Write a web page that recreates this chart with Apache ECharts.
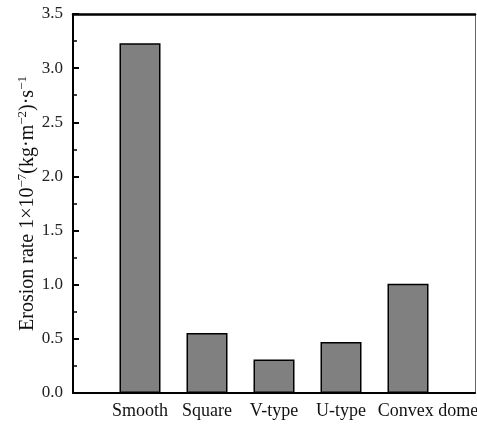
<!DOCTYPE html>
<html>
<head>
<meta charset="utf-8">
<script src="https://cdn.jsdelivr.net/npm/echarts@6/dist/echarts.min.js"></script>
<style>
  html, body { margin: 0; padding: 0; background: #fff; }
  #chart { width: 477px; height: 428px; }
</style>
</head>
<body>
<div id="chart"></div>
<script>
// categories (blank ends keep the bars off the frame edges)
var categories = ['', 'Smooth', 'Square', 'V-type', 'U-type', 'Convex dome', ''];
var erosionRate = [null, 3.23, 0.555, 0.31, 0.47, 1.01, null];
var yTicks = [0, 0.5, 1.0, 1.5, 2.0, 2.5, 3.0, 3.5];

var serif = '"Liberation Serif", "DejaVu Serif", serif';

var myChart = echarts.init(document.getElementById('chart'));

var xData = categories.map(function (c) {
    // last label sits a bit right of its bar in the original
    if (c === 'Convex dome') {
        return { value: c, textStyle: { padding: [0, 0, 0, 40] } };
    }
    return c;
});

var option = {
    animation: false,
    backgroundColor: '#fff',
    grid: { left: 73, right: 2, top: 14, bottom: 35, outerBoundsMode: 'none', containLabel: false },
    xAxis: [{
        type: 'category',
        data: xData,
        boundaryGap: false,
        axisLine: { lineStyle: { color: '#000', width: 2 } },
        axisTick: { show: false },
        axisLabel: {
            interval: 0,
            margin: 9,
            color: '#111',
            fontFamily: serif,
            fontSize: 18
        },
        splitLine: { show: false }
    }, {
        type: 'category',
        position: 'top',
        data: categories,
        boundaryGap: false,
        axisLine: { onZero: false, lineStyle: { color: '#000', width: 2.5 } },
        axisTick: { show: false },
        axisLabel: { show: false }
    }],
    yAxis: [{
        type: 'value',
        min: yTicks[0],
        max: yTicks[yTicks.length - 1],
        interval: 0.5,
        name: '{a|Erosion rate 1×10}{s|−7}{a|(kg·m}{s|−2}{a|)·s}{s|−1}',
        nameLocation: 'middle',
        nameRotate: 90,
        nameGap: 33,
        nameMoveOverlap: false,
        nameTextStyle: {
            rich: {
                a: { fontFamily: serif, fontSize: 20, color: '#111', lineHeight: 24 },
                s: { fontFamily: serif, fontSize: 13, color: '#111', lineHeight: 24, verticalAlign: 'top', padding: [0, 0, 2, 0] }
            }
        },
        axisLine: { show: true, onZero: false, lineStyle: { color: '#000', width: 2 } },
        axisTick: { show: true, inside: true, length: 6, lineStyle: { color: '#000', width: 2 } },
        minorTick: { show: true, splitNumber: 2, length: 4, lineStyle: { color: '#000', width: 1.5 } },
        axisLabel: {
            margin: 10,
            color: '#222',
            fontFamily: serif,
            fontSize: 17,
            formatter: function (v) { return v.toFixed(1); }
        },
        splitLine: { show: false }
    }, {
        type: 'value',
        position: 'right',
        min: 0,
        max: 3.5,
        axisLine: { show: true, onZero: false, lineStyle: { color: '#666', width: 1 } },
        axisTick: { show: false },
        axisLabel: { show: false },
        splitLine: { show: false }
    }],
    series: [{
        type: 'bar',
        data: erosionRate,
        barWidth: 41,
        itemStyle: { color: '#808080', borderColor: '#000', borderWidth: 1.5 }
    }]
};

myChart.setOption(option);
</script>
</body>
</html>
